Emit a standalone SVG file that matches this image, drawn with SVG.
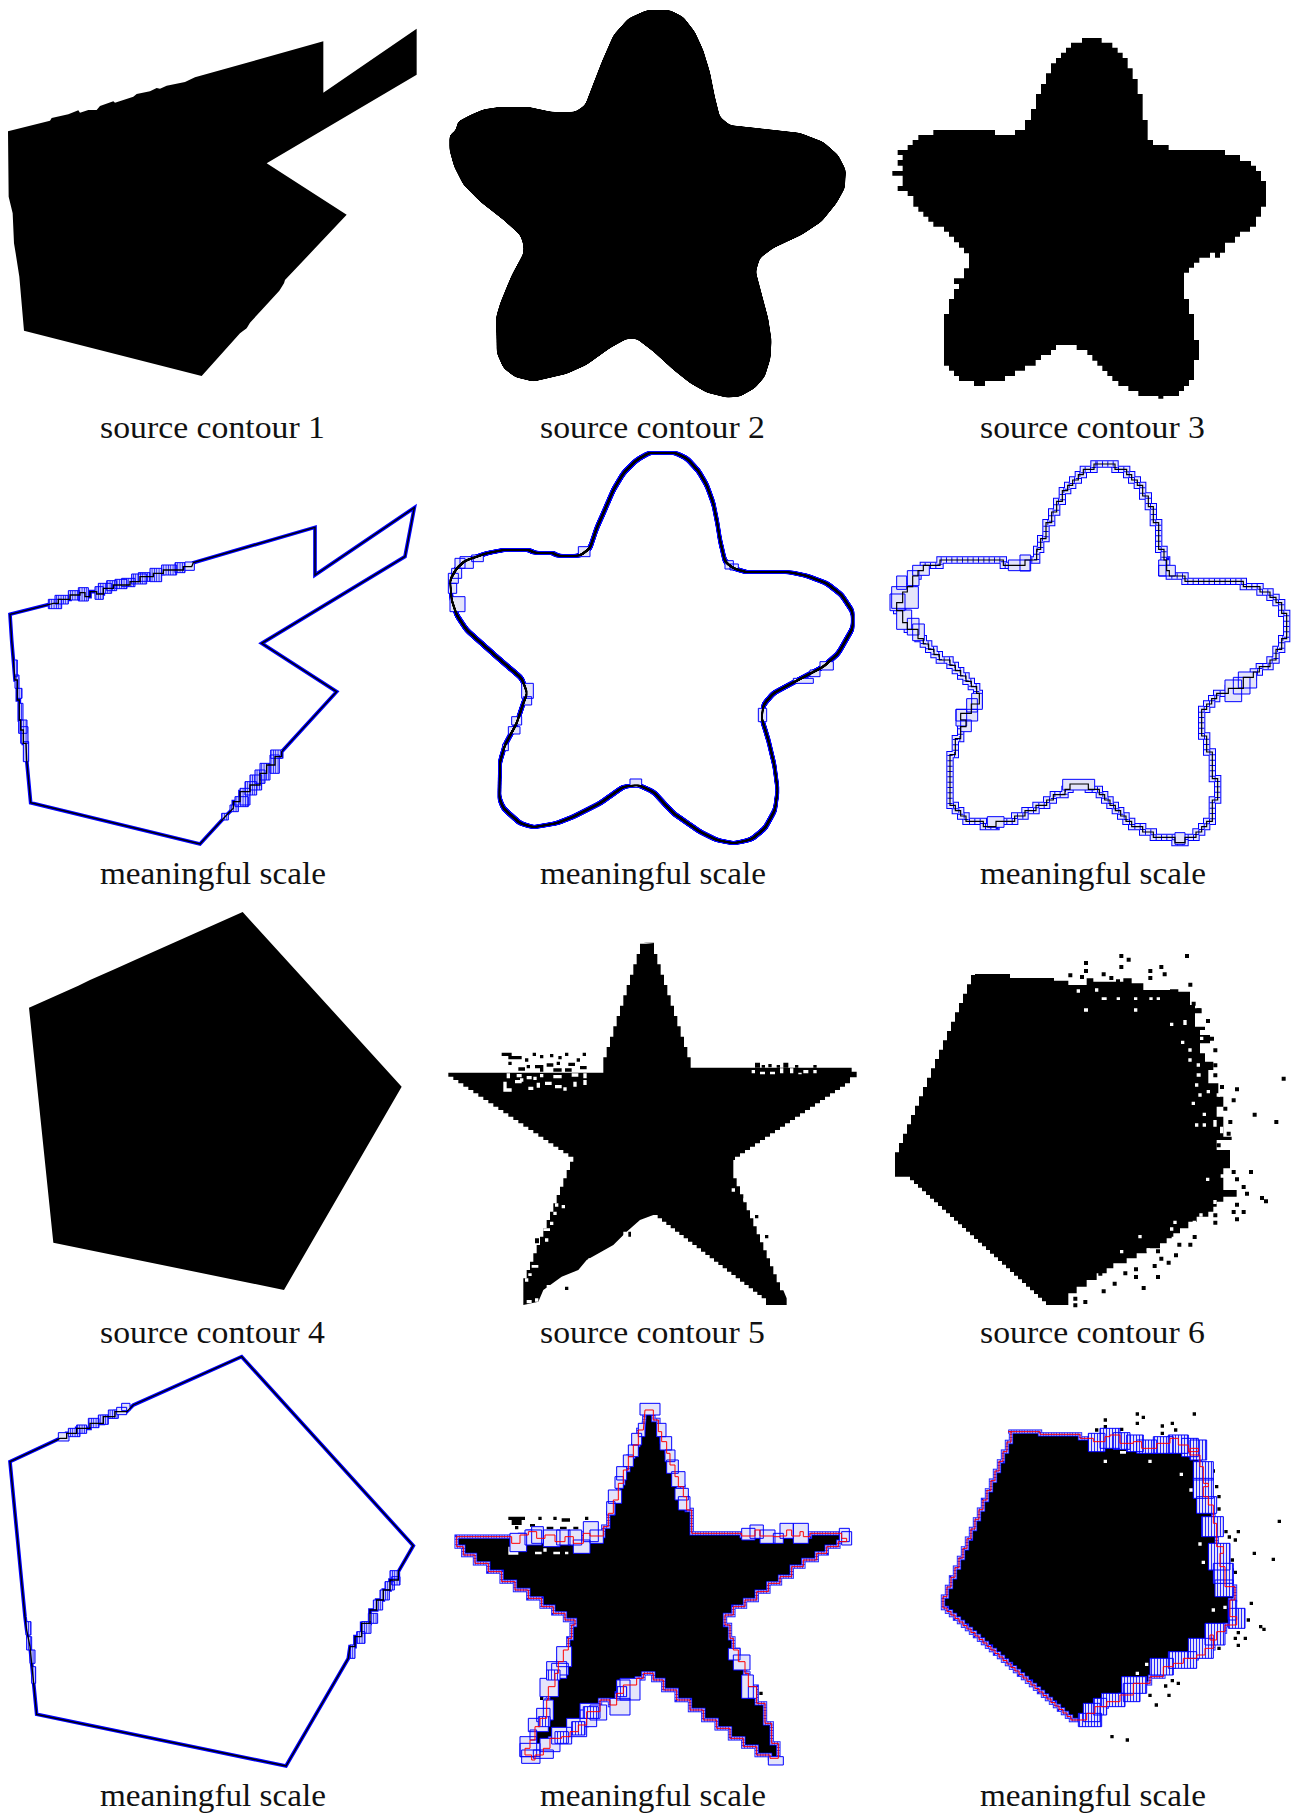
<svg xmlns="http://www.w3.org/2000/svg" xmlns:xlink="http://www.w3.org/1999/xlink" width="1296" height="1814" viewBox="0 0 1296 1814">
<style>
text{font-family:"Liberation Serif","Times New Roman",serif;font-size:32px;fill:#111}
.k{fill:#000;stroke:none}
.w{fill:#fff;stroke:none}
.o1{fill:none;stroke:#00f;stroke-width:22}
.i1{fill:none;stroke:#e4e4ff;stroke-width:16}
.t1{fill:none;stroke:#00f;stroke-width:16;stroke-dasharray:3 13}
.c1{fill:none;stroke:#000;stroke-width:3.5}
.o2{fill:none;stroke:#00f;stroke-width:13}
.i2{fill:none;stroke:#a8a8ff;stroke-width:9}
.t2{fill:none;stroke:#00f;stroke-width:9;stroke-dasharray:2 6}
.r{fill:none;stroke:#f00;stroke-width:3}
.o3{fill:none;stroke:#00f;stroke-width:11}
.c3{fill:none;stroke:#000;stroke-width:4}
.x{fill:#e4e4fa;stroke:#00f;stroke-width:3}
.s{fill:url(#st);stroke:#00f;stroke-width:3}
.s2{fill:url(#st2);stroke:#00f;stroke-width:3}
</style>
<defs>
<pattern id="st" width="9" height="9" patternUnits="userSpaceOnUse"><rect width="9" height="9" fill="#e4e4fa"/><rect width="2.5" height="9" fill="#00f"/></pattern>
<pattern id="st2" width="7" height="7" patternUnits="userSpaceOnUse"><rect width="7" height="7" fill="#c4c4fc"/><rect width="2" height="7" fill="#00f"/></pattern>
<filter id="sm" x="-5%" y="-5%" width="110%" height="110%"><feGaussianBlur stdDeviation="8"/><feComponentTransfer><feFuncA type="linear" slope="14" intercept="-6.5"/></feComponentTransfer></filter>
<filter id="ringB" x="-5%" y="-5%" width="110%" height="110%" color-interpolation-filters="sRGB"><feGaussianBlur stdDeviation="8"/><feComponentTransfer result="a"><feFuncA type="linear" slope="14" intercept="-6.5"/></feComponentTransfer><feMorphology in="a" operator="dilate" radius="6" result="d"/><feMorphology in="a" operator="erode" radius="6" result="e"/><feComposite in="d" in2="e" operator="out" result="ring"/><feFlood flood-color="#00f"/><feComposite in2="ring" operator="in"/></filter>
<filter id="ringK" x="-5%" y="-5%" width="110%" height="110%" color-interpolation-filters="sRGB"><feGaussianBlur stdDeviation="8"/><feComponentTransfer result="a"><feFuncA type="linear" slope="14" intercept="-6.5"/></feComponentTransfer><feMorphology in="a" operator="dilate" radius="2" result="d"/><feMorphology in="a" operator="erode" radius="2" result="e"/><feComposite in="d" in2="e" operator="out" result="ring"/><feFlood flood-color="#000"/><feComposite in2="ring" operator="in"/></filter>
<path id="c4" d="M30 523L160 490H175V478H210V465H240V458H255V470H270V455H290V462H310V445H340V435H390V425H420V410H460V400H490V390H550V380H575L580 368 945 262V405L1243 203 1215 350 785 610 1010 755 845 935V950H825V975H800V1000H780V1035H750V1055H720V1085H700V1105L680 1125 600 1212 92 1088 80 960 78 910H70V870H62V840H58V780H52V720H45L35 600Z"/>
<path id="c5" d="M628 38H705L740 55 775 92 800 135 820 190 832 250 840 300 855 365 880 385 920 397H1050L1100 407 1160 430 1205 465 1238 515V565L1195 640 1150 680 1070 722 1000 760 970 795 965 835 985 900 1003 975 1013 1050 1005 1110 975 1165 935 1198 905 1205 880 1210 830 1200 780 1175 700 1120 640 1055 595 1035 550 1040 480 1090 400 1130 350 1150 280 1162 240 1150 190 1105 178 1075 180 965 195 915 230 850 250 790 262 760 245 715 175 655 80 570 50 525 35 480 30 420 50 385 75 362 140 340 190 330H275V338H345V347H420L450 325 470 265 490 220 520 150 550 100 590 60Z"/>
<path id="c6" d="M680 72H735V88H770V104H785V120H802V136H818V168H835V200H850V248H866V328H882V360H890V392H898V408H945V424H1120V440H1170V456H1200V472H1218V488H1235V520H1250V596H1235V628H1218V660H1200V680H1168V696H1150V712H1120V745H1075V760H1040V776H1025V792H1010V808H995V888H1010V936H1027V1016H1043V1080H1027V1144H1010V1160H995V1176H978V1192H945V1208H915V1192H850V1176H818V1160H785V1144H768V1128H752V1112H736V1096H720V1080H704V1064H688V1048H655V1032H600V1048H585V1064H550V1080H530V1096H498V1112H465V1128H434V1144H378V1160H340V1144H288V1128H272V1112H256V1096H240V944H256V896H272V860H288V840H272V820H304V792H328V760H320V740H304V724H288V708H272V692H256V676H240V660H208V644H192V628H176V612H160V596H144V568H112V548H98V512H80V488H98V456H112V440H128V408H144V392H160V376H210V360H400V376H465V360H500V328H512V296H528V248H545V216H560V184H577V152H593V136H608V120H625V104H640V88H672V72Z"/>
<path id="c7" d="M30 335L180 265H200V250H230V235H270V220H310V200H345V185H380L400 165 725 20 1240 587 1195 665V690H1170V720H1150V750H1130V780H1110V820H1085V860H1065V890H1050L1045 925 858 1248 110 1093 100 990 90 890 80 840 75 800Z"/>
<path id="c8" d="M615 60H640V90H655V125H665V155H680V190H690V225H705V260H715V290H730V320H740V360H755V430H905V438H945V420H960V438H1000V440H1020V438H1040V420H1055V438H1080V425H1090V440H1110V430H1205V445H1220V455H1195V470H1160V490H1130V510H1090V530H1055V560H1020V580H985V605H950V630H915V650H880V675H855V705H870V745H880V780H895V815H915V850H925V890H950V940H975V1000H995V1060H1015V1105H990V1095H950V1070H910V1045H870V1015H830V990H790V960H750V930H710V900H670V870H640V850H610V865H590V885H550V910H530V945H510V930H480V965H440V1005H415V1025H390V1040H365V1045H330V1075H310V1095H285V1110H275V1095H255V1075H270V1050H285V1010H300V985H320V930H325V890H345V850H355V815H370V780H385V745H395V705H405V690H375V670H340V650H305V625H265V600H225V575H185V545H145V520H105V495H70V470H50V440H215V460H240V435H265V425H290V445H315V435H345V455H375V440H400V460H430V430H450V438H490V410H505V370H520V330H535V280H550V240H565V200H580V165H595V120H610Z"/>
<path id="c9" d="M265 125H360V133H480V145H520V155H555V140H570V135H600V160H640V155H665V175H710V160H750V145H775V165H805V185H835V175H810V195H840V230H850V280H865V290H850V320H865V345H880V400H890V470H910V490H900V530H915V590H945V630H930V680H950V705H915V725H890V750H870V735H880V775H855V795H830V805H790V820H760V830H730V860H690V880H640V915H600V935H560V950H525V970H500V990H465h-12v-10.500h-12v-10.500h-12v-10.500h-12v-10.500h-12v-10.500h-12v-10.500h-12v-10.500h-12v-10.500h-12v-10.500h-12v-10.500h-12v-10.500h-12v-10.500h-12v-10.500h-12v-10.500h-12v-10.500h-12v-10.500h-12v-10.500h-12v-10.500h-12v-10.500h-12v-10.500h-12v-10.500h-12v-10.500h-12v-10.500h-12v-10.500h-12v-10.500h-12v-10.500h-12v-10.500h-12v-10.500h-12v-10.500h-12v-10.500h-12v-10.500h-12v-10.500h-12v-10.500V620h12v-29h12v-29h12v-29h12v-29h12v-29h12v-29h12v-29h12v-29h12v-29h12v-29h12v-29h12v-29h12v-29h12v-29h12v-29h12v-29h12V125Z"/>
</defs>

<g id="source-1">
<g transform="scale(.33333)"><path class="k" d="M24 394L150 362 155 354 205 343 235 331 240 338 265 330 290 330 300 318 340 304 345 308 400 290 410 282 450 274 470 264 480 266 500 257 555 246 585 232 970 124V278L1250 86V224L800 490 1040 644 945 745 855 840 852 850 838 872 785 930 750 968 740 985 720 1000 605 1128 72 992 58 830 47 760 42 730 38 640 26 590Z"/></g>
<text x="100" y="438.200" textLength="225" lengthAdjust="spacingAndGlyphs">source contour 1</text>
</g>

<g id="source-2">
<g transform="translate(440,0) scale(.33333)"><path class="k" filter="url(#sm)" d="M620 30H690L730 50 765 95 790 150 810 215 825 290 840 350 870 375 960 385 1080 398 1150 425 1195 465 1218 510 1215 565 1190 610 1145 665 1085 705 1000 745 960 775 948 815 965 880 985 955 995 1020 992 1075 975 1130 945 1165 900 1190 860 1193 800 1178 750 1150 700 1110 640 1055 590 1017H560L510 1045 440 1095 380 1122 280 1145 225 1132 190 1105 170 1060 168 950 180 910 200 860 215 825 250 760V735L240 705 190 660 120 605 70 555 42 500 28 450V405L48 390 52 365 90 345 130 328 180 320H265L335 335H405L435 315 460 250 485 185 520 105 565 55Z"/></g>
<text x="540" y="438.200" textLength="225" lengthAdjust="spacingAndGlyphs">source contour 2</text>
</g>

<g id="source-3">
<g transform="translate(870,0) scale(.33333)"><path class="k" d="M636 114H695V128H727V143H743V158H758V174H773V205H788V237H803V282H818V360H833V420H849V435H896V450H1065V465H1110V483H1143V497H1158V513H1173V543H1188V620H1173V650H1158V680H1140V695H1110V710H1095V728H1065V758H1050V773H1035V758H1020V773H988V788H972V803H957V818H942V897H957V942H972V1020H987V1080H972V1140H957V1158H942V1173H927V1188H880V1196H865V1188H805V1173H775V1158H745V1143H727V1128H712V1113H697V1097H682V1082H667V1065H652V1050H620V1035H558V1050H543V1065H513V1080H497V1097H465V1112H435V1128H405V1143H345V1158H312V1143H267V1128H252V1112H237V1097H222V942H237V897H252V867H267V852H252V835H282V805H297V760H282V743H267V727H252V710H237V695H222V680H190V665H175V650H160V635H145V620H130V588H113V573H83V558H98V527H67V513H98V497H83V480H98V465H83V450H113V435H128V420H145V405H190V390H375V405H435V390H465V360H483V327H498V282H513V252H528V220H543V190H558V174H573V158H588V143H603V128H636Z"/></g>
<text x="980" y="438.200" textLength="225" lengthAdjust="spacingAndGlyphs">source contour 3</text>
</g>

<g id="scale-1">
<g transform="translate(0,440) scale(.33333)">
<use href="#c4" class="o3"/>
<path class="s2" d="M145 478h40v28h-40zM165 466h40v26h-40zM205 452h34v28h-34zM235 443h30v40h-30zM285 440h25v38h-25zM295 430h40v30h-40zM320 422h30v30h-30zM345 418h36v28h-36zM365 415h40v25h-40zM395 402h45v30h-45zM415 398h35v26h-35zM450 385h35v40h-35zM485 375h45v30h-45zM525 368h30v30h-30z"/>
<path class="x" d="M555 366h28v25h-28z"/>
<path class="s2" d="M42 660h10v50h-10zM45 705h12v40h-12zM50 745h16v30h-16zM55 790h14v50h-14zM56 840h25v40h-25zM62 860h22v50h-22zM70 905h16v60h-16z"/>
<path class="s2" d="M812 930h35v25h-35zM810 945h28v55h-28zM780 970h30v50h-30zM765 990h30v40h-30zM750 1005h35v45h-35zM735 1025h35v40h-35zM720 1045h30v50h-30zM705 1070h40v30h-40zM690 1095h25v20h-25zM665 1120h20v20h-20z"/>
<use href="#c4" class="c3"/>
</g>
<text x="100" y="884.200" textLength="226" lengthAdjust="spacingAndGlyphs">meaningful scale</text>
</g>

<g id="scale-2">
<g transform="translate(440,440) scale(.33333)">
<use href="#c5" class="k" filter="url(#ringB)"/>
<path class="x" d="M25 400h30v30h-30zM35 385h30v30h-30zM45 355h30v30h-30zM60 350h40v35h-40zM95 345h35v20h-35zM25 430h25v30h-25zM30 470h45v45h-45zM245 730h35v45h-35zM250 770h25v25h-25zM215 830h30v25h-30zM205 860h35v22h-35zM570 1017h35v25h-35zM415 320h35v30h-35zM855 362h25v25h-25zM870 372h25v18h-25zM1060 715h60v15h-60zM1110 690h30v20h-30zM1140 665h40v25h-40zM955 805h25v40h-25zM188 912h17v20h-17z"/>
<use href="#c5" class="k" filter="url(#ringK)"/>
</g>
<text x="540" y="884.200" textLength="226" lengthAdjust="spacingAndGlyphs">meaningful scale</text>
</g>

<g id="scale-3">
<g transform="translate(870,440) scale(.33333)">
<use href="#c6" class="o1"/><use href="#c6" class="i1"/><use href="#c6" class="t1"/>
<path class="x" d="M60 462h45v50h-45zM65 440h80v65h-80zM80 408h30v40h-30zM112 392h35v45h-35zM128 376h50v30h-50zM80 510h45v58h-45zM112 535h35v50h-35zM128 552h35v50h-35zM450 345h32v48h-32zM415 360h65v32h-65zM866 360h22v48h-22zM866 376h50v32h-50zM1065 720h50v65h-50zM1105 696h55v48h-55zM1090 712h50v50h-50zM305 760h32v48h-32zM290 776h32v40h-32zM258 808h65v35h-65zM258 808h32v50h-32zM272 840h32v35h-32zM578 1018h96v32h-96zM352 1130h50v32h-50zM915 1178h30v35h-30z"/>
<use href="#c6" class="c1"/>
</g>
<text x="980" y="884.200" textLength="226" lengthAdjust="spacingAndGlyphs">meaningful scale</text>
</g>

<g id="source-4">
<g transform="translate(0,900) scale(.33333)"><path class="k" d="M728 36L1205 560 852 1170 160 1028 87 323 235 257 270 240 345 207 405 180Z"/></g>
<text x="100" y="1343.200" textLength="225" lengthAdjust="spacingAndGlyphs">source contour 4</text>
</g>

<g id="source-5">
<g transform="translate(440,930) scale(.33333)">
<path class="k" d="M610 38H645h-3l-0 3M762 413h-10v-31h-10v-31h-10v-31h-10v-31h-10v-31h-10v-31h-10v-31h-10v-31h-10v-31h-10v-31h-10v-31h-10v-31H610h-10v31h-10v31h-10v31h-10v31h-10v31h-10v31h-10v31h-10v31h-10v31h-10v31h-10v31h-10v31V428H25V440H40V450H55V460h15v10h15v10h15v10h15v10h15v10h15v10h15v10h15v10h15v10h15v10h15v10h15v10h15v10h15v10h15v10h15v10h15v10h15v10h15v10h15v10h15v10h15v10h15V695h-10v25h-10v25h-10v25h-10v25h-10v25h-10v25h-10v25h-10v25h-10v25h-10v25h-10v25h-10v25h-10v25h-10v25h-10v25V1115L250 1125 295 1115 310 1080 365 1040 415 1020 440 990 520 945 560 905 600 870 640 855h13v10h13v10h13v10h13v10h13v10h13v10h13v10h13v10h13v10h13v10h13v10h13v10h13v10h13v10h13v10h13v10h13v10h13v10h13v10h13v10h13v10h13v10h13v10h13v10h13v10h13V1125H1040V1105l-10-24h-10v-24h-10v-24h-10v-24h-10v-24h-10v-24h-10v-24h-10v-24h-10v-24h-10v-24h-10v-24h-10v-24h-10v-24h-10v-24h-10v-24h-10V690H885V680h15v-10h15v-10h15v-10h15v-10h15v-10h15v-10h15v-10h15v-10h15v-10h15v-10h15v-10h15v-10h15v-10h15v-10h15v-10h15v-10h15v-10h15v-10h15v-10h15v-10h15v-10h15v-10h15V442H1250V425H1235V413Z"/>
<path class="k" d="M185 368h30v10h-30zM205 378h40v10h-40zM205 395h10v10h-10zM278 368h10v10h-10zM300 375h10v10h-10zM330 372h10v10h-10zM355 378h10v10h-10zM375 368h10v10h-10zM428 368h10v10h-10zM255 385h10v10h-10zM285 405h25v10h-25zM320 400h20v10h-20zM350 395h10v10h-10zM385 398h20v10h-20zM410 385h10v10h-10zM260 405h10v10h-10zM235 412h20v10h-20zM340 415h25v10h-25zM375 415h20v10h-20zM420 408h20v10h-20zM300 415h10v10h-10zM945 398h15v15h-15zM985 402h10v10h-10zM1030 398h15v15h-15zM1065 405h10v8h-10zM1120 405h10v8h-10zM965 405h10v8h-10zM1010 405h10v8h-10zM285 925h12v15h-12zM375 1070h10v10h-10zM945 855h10v10h-10zM975 915h10v10h-10zM565 905h8v15h-8z"/>
<path class="w" d="M190 455h10v30h-10zM190 475h25v10h-25zM200 430h10v15h-10zM230 432h15v10h-15zM260 438h15v10h-15zM300 432h10v10h-10zM340 435h25v10h-25zM395 430h20v10h-20zM430 430h10v15h-10zM225 450h20v10h-20zM265 470h15v10h-15zM290 458h10v15h-10zM315 455h20v10h-20zM345 465h20v10h-20zM370 472h10v10h-10zM400 455h10v15h-10zM430 450h10v15h-10zM240 445h10v10h-10zM280 440h10v10h-10zM935 420h10v10h-10zM960 425h15v8h-15zM990 425h15v8h-15zM1020 415h10v15h-10zM1050 415h10v15h-10zM1090 420h15v10h-15zM1120 420h10v10h-10zM1075 428h10v5h-10zM345 820h10v10h-10zM365 825h10v10h-10zM340 845h10v10h-10zM330 875h10v10h-10zM310 895h20v8h-20zM315 925h10v10h-10zM275 1005h20v8h-20zM265 1030h10v8h-10zM255 1045h10v10h-10zM320 1065h10v8h-10zM355 1055h20v8h-20zM370 1040h10v10h-10zM425 1010h10v10h-10zM260 1110h15v10h-15zM285 1105h10v10h-10zM445 985h15v8h-15zM480 975h10v8h-10zM505 975h10v10h-10zM525 945h15v8h-15zM550 905h10v15h-10zM875 775h10v10h-10zM910 805h15v8h-15zM935 850h10v10h-10z"/>
</g>
<text x="540" y="1343.200" textLength="225" lengthAdjust="spacingAndGlyphs">source contour 5</text>
</g>

<g id="source-6">
<g transform="translate(880,940) scale(.33333)">
<path class="k" d="M285 102H390V114H522V122H565V135H620V115H640V125H730V115H755V130H790V150H870V148H895V155H930V195H945V205H965V220H945V260H975V270H960V285H990V310H960V340H975V365H1000V390H985V430H1015V470H1030V500H1010V530H1030V590H1055V600H1010V630H1050V685H1030V750H1070V770H1030V785H1010V800H1000V815H985V830H950V845H925V865H900V880H880V895H860V910H840V925H800V940H770V955H740V970H700V985H680V1000H650V1020H620V1040H590V1060H565V1095H510h-12v-11h-12v-11h-12v-11h-12v-11h-12v-11h-12v-11h-12v-11h-12v-11h-12v-11h-12v-11h-12v-11h-12v-11h-12v-11h-12v-11h-12v-11h-12v-11h-12v-11h-12v-11h-12v-11h-12v-11h-12v-11h-12v-11h-12v-11h-12v-11h-12v-11h-12v-11h-12v-11h-12v-11h-12v-11h-12v-11h-12v-11h-12v-11h-12v-11h-12v-11h-12v-11H45V665v-28h12v-28h12v-28h12v-28h12v-28h12v-28h12v-28h12v-28h12v-28h12v-28h12v-28h12v-28h12v-28h12v-28h12v-28h12v-28h12v-28h12v-28h12v-28h12v-28h12V102Z"/>
<path class="k" d="M718 42h12v12h-12zM740 53h12v12h-12zM915 42h12v12h-12zM612 63h12v12h-12zM718 75h12v12h-12zM612 87h12v12h-12zM665 97h12v12h-12zM805 87h12v12h-12zM838 75h12v12h-12zM805 108h12v12h-12zM848 97h12v12h-12zM688 108h12v12h-12zM708 118h12v12h-12zM925 128h12v12h-12zM1205 410h12v12h-12zM1065 442h12v12h-12zM1055 475h12v12h-12zM1118 518h12v12h-12zM1183 540h12v12h-12zM1045 540h12v12h-12zM1107 690h12v12h-12zM1055 690h12v12h-12zM1065 712h12v12h-12zM1085 735h12v12h-12zM1095 755h12v12h-12zM1140 768h12v12h-12zM1152 778h12v12h-12zM1065 788h12v12h-12zM1055 810h12v12h-12zM1085 810h12v12h-12zM1065 832h12v12h-12zM1000 820h12v12h-12zM1000 842h12v12h-12zM938 885h12v12h-12zM925 908h12v12h-12zM892 908h12v12h-12zM882 940h12v12h-12zM860 962h12v12h-12zM838 950h12v12h-12zM828 928h12v12h-12zM818 972h12v12h-12zM828 1005h12v12h-12zM785 1038h12v12h-12zM762 982h12v12h-12zM762 1005h12v12h-12zM730 994h12v12h-12zM698 1025h12v12h-12zM665 1048h12v12h-12zM655 995h12v12h-12zM612 1005h12v12h-12zM580 1015h12v12h-12zM610 1080h12v12h-12zM580 1090h12v12h-12zM580 1070h12v12h-12zM990 290h12v12h-12zM978 237h12v12h-12zM1000 325h12v12h-12zM1000 370h12v12h-12zM1000 400h12v12h-12zM565 100h12v12h-12zM600 105h12v12h-12zM1020 435h12v12h-12zM1030 500h12v12h-12zM1040 575h12v12h-12zM1010 610h12v12h-12zM950 205h12v12h-12zM935 185h12v12h-12z"/>
<path class="w" d="M612 205h12v10h-12zM762 205h10v10h-10zM870 248h10v10h-10zM903 302h10v10h-10zM935 485h10v10h-10zM968 518h10v10h-10zM945 550h10v10h-10zM968 550h10v10h-10zM978 713h10v10h-10zM1022 703h10v10h-10zM720 930h10v10h-10zM775 885h10v10h-10zM870 862h10v10h-10zM880 842h10v10h-10zM938 842h10v10h-10zM958 820h10v10h-10zM665 172h15v8h-15zM710 172h10v8h-10zM762 172h10v8h-10zM808 172h10v8h-10zM830 172h10v8h-10zM645 145h10v10h-10zM590 148h10v10h-10zM910 240h10v15h-10zM925 325h10v10h-10zM925 355h10v10h-10zM950 370h10v10h-10zM945 430h10v10h-10zM955 460h10v10h-10zM980 450h10v10h-10zM1010 460h10v10h-10zM1000 540h10v20h-10zM1020 560h10v20h-10zM960 290h10v10h-10zM950 400h12v10h-12zM1040 705h10v12h-10zM1000 780h10v12h-10zM875 890h12v10h-12zM800 925h10v10h-10z"/>
</g>
<text x="980" y="1343.200" textLength="225" lengthAdjust="spacingAndGlyphs">source contour 6</text>
</g>

<g id="scale-4">
<g transform="translate(0,1350) scale(.33333)">
<use href="#c7" class="o3"/>
<path class="x" d="M175 248h32v25h-32z"/>
<path class="s2" d="M205 235h35v25h-35zM230 225h30v25h-30zM265 205h32v28h-32zM295 195h30v28h-30zM325 180h30v25h-30z"/>
<path class="x" d="M350 172h30v22h-30zM365 160h25v22h-25z"/>
<path class="s2" d="M1170 662h25v25h-25zM1175 680h25v25h-25zM1155 695h28v25h-28zM1140 720h28v30h-28zM1120 750h28v30h-28zM1105 790h28v30h-28zM1085 815h28v35h-28zM1070 845h25v35h-25zM1050 885h15v40h-15zM78 815h15v40h-15zM80 860h15v40h-15zM90 900h15v40h-15zM95 950h12v50h-12z"/>
<use href="#c7" class="c3"/>
</g>
<text x="100" y="1806" textLength="226" lengthAdjust="spacingAndGlyphs">meaningful scale</text>
</g>

<g id="scale-5">
<g transform="translate(440,1390) scale(.33333)">
<use href="#c8" class="k"/>
<path class="k" d="M205 380h50v10h-50zM215 390h30v15h-30zM225 408h10v10h-10zM295 380h10v10h-10zM340 380h10v10h-10zM365 385h25v10h-25zM435 380h10v10h-10zM270 402h15v8h-15zM320 410h20v8h-20zM360 410h20v8h-20zM400 410h15v8h-15zM300 915h10v15h-10zM958 905h10v10h-10zM510 950h8v20h-8zM1010 1090h10v12h-10z"/>
<path class="w" d="M205 470h10v22h-10zM205 484h30v10h-30zM285 485h20v8h-20zM310 475h10v10h-10zM340 485h20v8h-20zM375 485h10v8h-10z"/>
<use href="#c8" class="o2"/><use href="#c8" class="i2"/><use href="#c8" class="t2"/>
<path class="x" d="M600 40h60v35h-60zM650 100h28v40h-28zM660 140h35v40h-35zM675 180h30v35h-30zM680 210h35v40h-35zM695 245h40v45h-40zM705 295h40v35h-40zM715 320h35v40h-35zM595 100h20v40h-20zM575 130h30v35h-30zM565 165h30v35h-30zM550 195h30v35h-30zM530 230h30v40h-30zM525 260h25v35h-25zM505 300h40v40h-40zM500 335h25v40h-25zM210 430h50v55h-50zM255 420h50v45h-50zM275 410h35v50h-35zM310 420h50v50h-50zM350 420h40v45h-40zM385 420h40v45h-40zM430 395h45v60h-45zM450 420h40v40h-40zM400 450h50v40h-50zM905 415h40v35h-40zM930 405h40v40h-40zM960 420h45v40h-45zM1020 400h40v45h-40zM1060 400h45v60h-45zM1000 430h30v30h-30zM1198 415h30v40h-30zM1205 425h30v40h-30zM350 770h45v60h-45zM335 820h50v35h-50zM320 815h60v50h-60zM300 865h55v55h-55zM310 930h30v60h-30zM290 955h40v40h-40zM265 985h60v40h-60zM270 1020h20v30h-20zM240 1040h50v60h-50zM240 1060h60v40h-60zM245 1080h55v40h-55zM280 1080h60v25h-60zM300 1045h60v40h-60zM335 1012h60v50h-60zM380 985h60v55h-60zM420 940h60v45h-60zM450 945h50v45h-50zM530 870h40v60h-40zM540 865h60v65h-60zM510 925h60v50h-60zM420 960h50v50h-50zM865 775h35v35h-35zM880 795h50v45h-50zM905 855h35v70h-35zM925 890h25v35h-25zM985 1100h45v25h-45z"/>
<path class="s" d="M320 840h40v30h-40zM295 980h35v30h-35zM345 1025h40v35h-40zM395 995h40v40h-40zM430 950h45v35h-45zM530 890h30v30h-30z"/>
<use href="#c8" class="r"/>
</g>
<text x="540" y="1806" textLength="226" lengthAdjust="spacingAndGlyphs">meaningful scale</text>
</g>

<g id="scale-6">
<g transform="translate(920,1390) scale(.33333)">
<use href="#c9" class="k"/>
<path class="k" d="M551 85h10v10h-10zM647 67h10v10h-10zM665 77h10v10h-10zM647 95h10v10h-10zM722 103h10v10h-10zM752 95h10v10h-10zM818 67h10v10h-10zM762 115h10v10h-10zM551 105h10v10h-10zM525 115h10v10h-10zM600 113h10v10h-10zM722 125h10v10h-10zM875 238h10v10h-10zM885 285h10v10h-10zM892 315h10v10h-10zM892 352h10v10h-10zM913 420h10v10h-10zM950 420h10v10h-10zM923 436h10v10h-10zM941 445h10v10h-10zM1073 389h10v10h-10zM998 485h10v10h-10zM1055 503h10v10h-10zM932 505h10v10h-10zM932 535h10v10h-10zM941 542h10v10h-10zM989 635h10v10h-10zM980 685h10v10h-10zM1017 705h10v10h-10zM1027 713h10v10h-10zM971 740h10v10h-10zM941 740h10v10h-10zM950 761h10v10h-10zM892 770h10v10h-10zM950 723h10v10h-10zM752 867h10v10h-10zM770 875h10v10h-10zM732 883h10v10h-10zM742 911h10v10h-10zM704 940h10v10h-10zM685 911h10v10h-10zM571 1035h10v10h-10zM617 1045h10v10h-10z"/>
<path class="w" d="M600 183h18v8h-18zM551 209h10v10h-10zM685 209h10v10h-10zM779 248h10v10h-10zM808 295h10v10h-10zM835 457h10v10h-10zM845 512h10v10h-10zM875 655h10v10h-10zM910 647h10v10h-10zM675 818h10v10h-10zM647 845h10v10h-10z"/>
<use href="#c9" class="o2"/><use href="#c9" class="i2"/><use href="#c9" class="t2"/>
<path class="s" d="M505 130h50v55h-50zM540 115h60v60h-60zM580 128h50v50h-50zM620 135h50v50h-50zM650 150h60v40h-60zM700 140h60v50h-60zM745 135h60v55h-60zM785 145h50v55h-50zM810 150h50v60h-50zM820 215h60v55h-60zM820 265h60v60h-60zM830 320h60v50h-60zM845 380h65v60h-65zM865 460h65v80h-65zM880 520h60v60h-60zM885 570h55v50h-55zM925 630h25v60h-25zM925 655h50v60h-50zM855 700h60v65h-60zM805 745h75v60h-75zM745 785h85v50h-85zM690 805h70v50h-70zM605 860h75v50h-75zM610 880h50v55h-50zM545 910h70v40h-70zM520 925h40v50h-40zM490 940h50v55h-50zM475 970h70v40h-70z"/>
<use href="#c9" class="r"/>
</g>
<text x="980" y="1806" textLength="226" lengthAdjust="spacingAndGlyphs">meaningful scale</text>
</g>
</svg>
